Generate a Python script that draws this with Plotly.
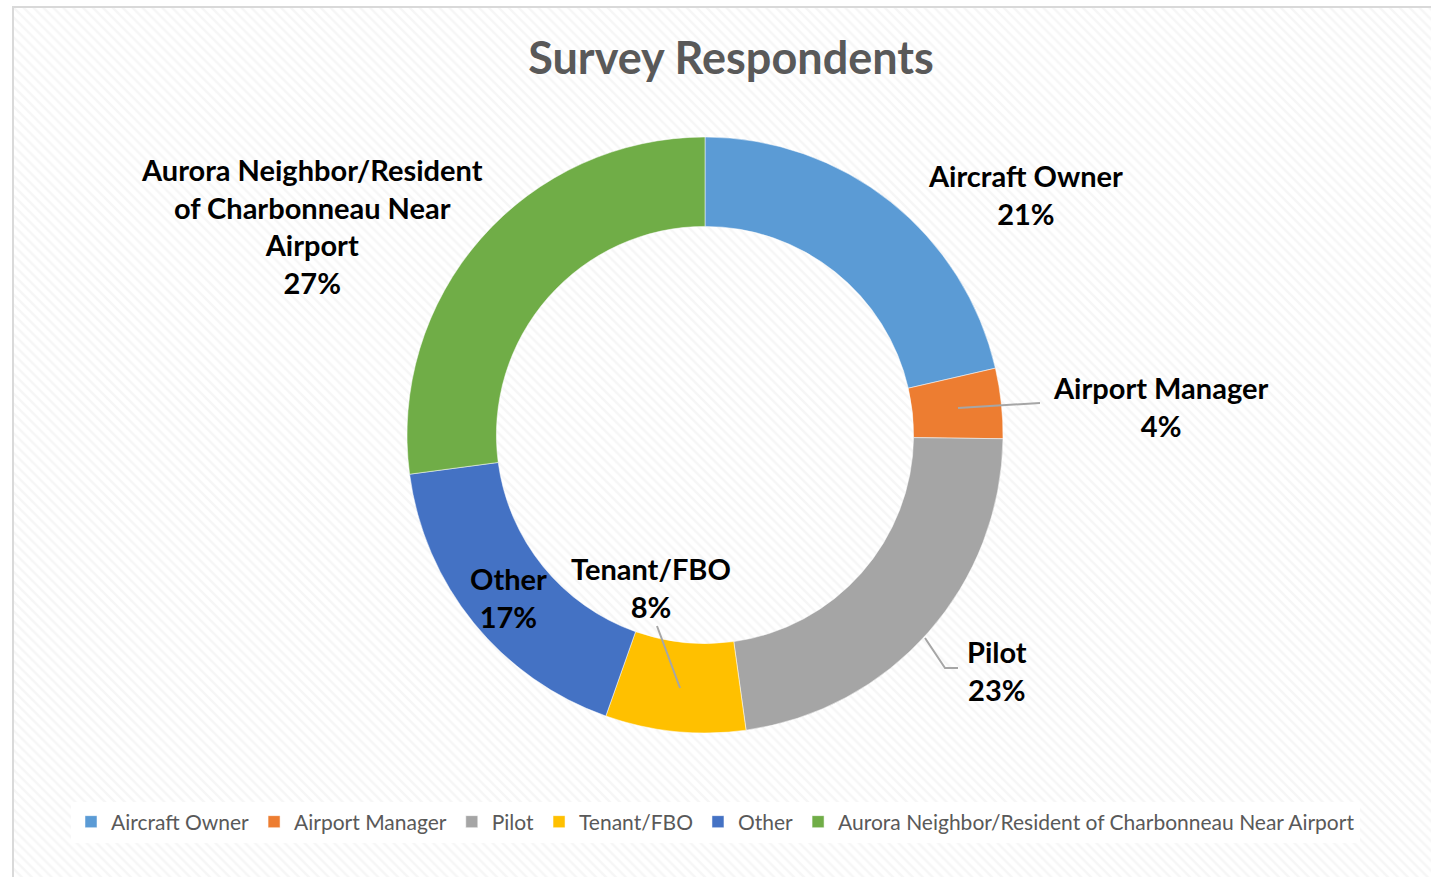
import plotly.graph_objects as go

W, H = 1431, 877

categories = ["Aircraft Owner", "Airport Manager", "Pilot", "Tenant/FBO", "Other",
              "Aurora Neighbor/Resident of Charbonneau Near Airport"]
# slice sizes as read from the ring, and the rounded shares printed on the labels
shares = [21.4, 3.8, 22.6, 7.6, 17.5, 27.1]
shown_pct = [21, 4, 23, 8, 17, 27]
colors = ["#5B9BD5", "#ED7D31", "#A5A5A5", "#FFC000", "#4472C4", "#70AD47"]

# label text as it wraps in the chart
label_text = ["Aircraft Owner", "Airport Manager", "Pilot", "Tenant/FBO", "Other",
              "Aurora Neighbor/Resident<br>of Charbonneau Near<br>Airport"]
# label centres in pixels
label_pos = [(1025, 194), (1160, 406), (997, 670), (651, 587), (508, 597), (312, 226)]


def px(x, y):
    return x / W, 1 - y / H


cx, cy, r = 705, 435, 298
x0, y0 = px(cx - r, cy + r)
x1, y1 = px(cx + r, cy - r)

fig = go.Figure()

# hatched chart background
fig.add_trace(go.Scatter(
    x=[0, 1, 1, 0, 0], y=[0, 0, 1, 1, 0], mode="lines", fill="toself",
    line=dict(width=0), fillcolor="white", hoverinfo="skip", showlegend=False,
    fillpattern=dict(shape="\\", fgcolor="#EDEDED", bgcolor="white", size=7, solidity=0.35),
))

fig.add_trace(go.Pie(
    labels=categories, values=shares, hole=0.70, sort=False, direction="clockwise",
    rotation=0, marker=dict(colors=colors, line=dict(color="white", width=0.5)),
    textinfo="none", domain=dict(x=[x0, x1], y=[y0, y1]),
))

for txt, val, (lx, ly) in zip(label_text, shown_pct, label_pos):
    ax, ay = px(lx, ly)
    fig.add_annotation(x=ax, y=ay, xref="paper", yref="paper", showarrow=False,
                       xanchor="center", yanchor="middle",
                       text=f"<b>{txt}<br>{val}%</b>", align="center",
                       font=dict(family="Lato", size=29, color="black"))

# leader lines
leaders = [
    [(958, 408), (1040, 403)],
    [(925, 638), (945, 668), (958, 668)],
    [(680, 688), (657, 626)],
]
for pts in leaders:
    path = ""
    for i, (a, b) in enumerate(pts):
        xx, yy = px(a, b)
        path += ("M" if i == 0 else "L") + f"{xx},{yy} "
    fig.add_shape(type="path", path=path, xref="paper", yref="paper",
                  line=dict(color="#A6A6A6", width=2))

# chart border
bx0, by0 = px(13, 877)
bx1, by1 = px(1431, 7)
fig.add_shape(type="rect", x0=bx0, y0=by0 - 0.01, x1=bx1 + 0.01, y1=by1,
              xref="paper", yref="paper", line=dict(color="#D9D9D9", width=2))

fig.update_layout(
    width=W, height=H,
    margin=dict(l=0, r=0, t=0, b=0),
    paper_bgcolor="white",
    plot_bgcolor="white",
    xaxis=dict(domain=[13 / W, 1], range=[0, 1], visible=False, fixedrange=True),
    yaxis=dict(domain=[0, 1 - 7 / H], range=[0, 1], visible=False, fixedrange=True),
    title=dict(text="<b>Survey Respondents</b>", x=731 / W, xanchor="center",
               y=1 - 58 / H, yanchor="middle",
               font=dict(family="Lato", size=45, color="#595959")),
    legend=dict(orientation="h", x=0.5, xanchor="center", y=1 - 822 / H, yanchor="middle",
                bgcolor="white", font=dict(family="Lato", size=21, color="#595959"),
                itemwidth=30, traceorder="normal"),
    showlegend=True,
)

fig.write_html("out.html", config={"displayModeBar": False},
               post_script="document.body.style.margin='0';")
